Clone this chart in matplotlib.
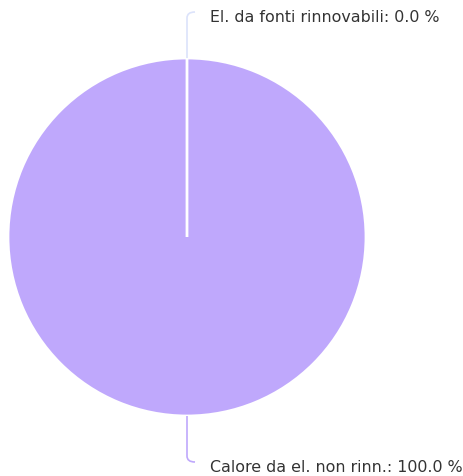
import matplotlib.pyplot as plt
from matplotlib.path import Path
from matplotlib.patches import PathPatch
import numpy as np

labels = ["El. da fonti rinnovabili", "Calore da el. non rinn."]
values = [0.0, 100.0]
colors = ["#dce3fb", "#bfa8fc"]

W, H = 464, 477
fig = plt.figure(figsize=(W / 100, H / 100), dpi=100)
ax = fig.add_axes([0, 0, 1, 1])

cx, cy, r = 187, 239, 179
wedges, _ = ax.pie(values, colors=colors, startangle=90, counterclock=False,
                   center=(cx, cy), radius=r, frame=True,
                   wedgeprops=dict(edgecolor="white", linewidth=2))
# the empty slice only shows as its white border line, keep it on top
wedges[0].set_zorder(5)
ax.set_xlim(0, W)
ax.set_ylim(0, H)
ax.set_aspect("equal")
ax.axis("off")

total = sum(values)
start = 90
for lab, v, col in zip(labels, values, colors):
    mid = start - 360 * (v / total) / 2
    start -= 360 * v / total
    ang = np.deg2rad(mid)
    x0 = cx + r * np.cos(ang)
    y0 = cy + r * np.sin(ang)
    sgn = 1 if np.sin(ang) > 0 else -1
    y2 = y0 + sgn * 46
    y1 = y2 - sgn * 6
    verts = [(x0, y0), (x0, y1), (x0, y2), (x0 + 8, y2)]
    codes = [Path.MOVETO, Path.LINETO, Path.CURVE3, Path.CURVE3]
    ax.add_patch(PathPatch(Path(verts, codes), fill=False, edgecolor=col, lw=1.2))
    ax.text(x0 + 23, y2 - 5, f"{lab}: {v:.1f} %",
            ha="left", va="center", fontsize=11.4, color="#333333",
            family="DejaVu Sans")

fig.savefig("out.png", dpi=100)
